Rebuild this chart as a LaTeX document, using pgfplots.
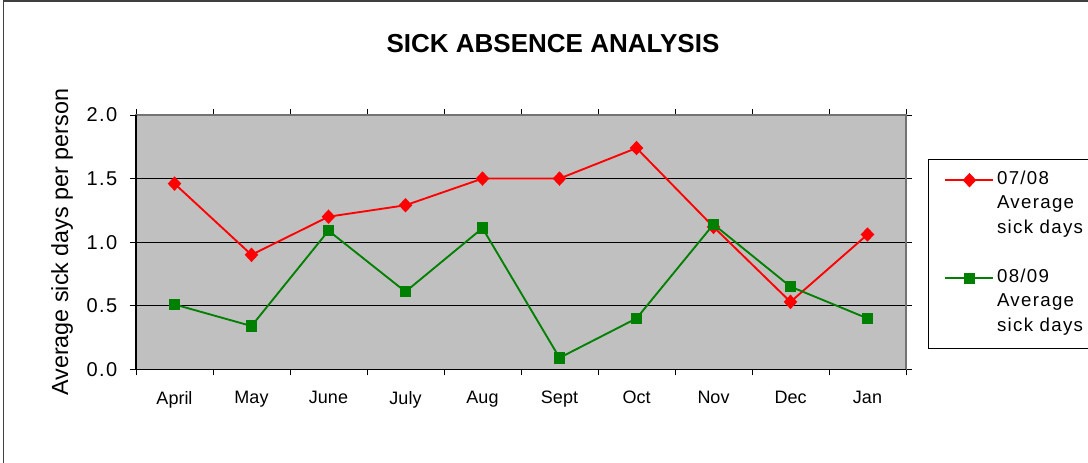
\documentclass[border=0pt]{standalone}
\usepackage{fontspec}
\setmainfont{Liberation Sans}
\newfontfamily\spaced[LetterSpace=7]{Liberation Sans}
\usepackage{pgfplots}
\pgfplotsset{compat=1.18}
\definecolor{plotbg}{RGB}{192,192,192}
\definecolor{dkgreen}{RGB}{0,128,0}
\begin{document}
\begin{tikzpicture}
\path[use as bounding box] (0,0) rectangle (816pt,347.25pt);
\clip (0,0) rectangle (816pt,347.25pt);
\draw[line width=1pt, black!75] (2.6pt,-5pt) rectangle (830pt,346.5pt);
\node[font=\bfseries\fontsize{19.5}{22}\selectfont] at (414.75pt,314.25pt) {SICK ABSENCE ANALYSIS};
\begin{axis}[
  at={(102pt,70.3pt)}, anchor=south west,
  scale only axis, width=577.5pt, height=190.7pt,
  xmin=0.5, xmax=10.5, ymin=0, ymax=2,
  axis background/.style={fill=plotbg},
  axis line style={draw=gray!90!black, line width=0.8pt},
  tick align=outside,
  major tick length=4.5pt,
  tick style={black, line width=0.6pt},
  xtick={0.5,1.5,...,10.5}, xticklabels={},
  extra x ticks={1,2,3,4,5,6,7,8,9,10},
  extra x tick labels={April,May,June,July,Aug,Sept,Oct,Nov,Dec,Jan},
  extra x tick style={major tick length=0pt, grid=none},
  ytick={0,0.5,1,1.5,2},
  yticklabels={0.0,0.5,1.0,1.5,2.0},
  ymajorgrids,
  major grid style={black, line width=0.6pt},
  yticklabel style={font=\spaced\fontsize{15}{16}\selectfont, xshift=-6pt},
  xticklabel style={font=\fontsize{13.5}{15}\selectfont, yshift=-13pt},
  ylabel={Average sick days per person},
  every axis y label/.style={at={(axis description cs:-0.0961,0.5)}, rotate=90, anchor=center, font=\fontsize{17.5}{19}\selectfont},
  legend style={at={(axis description cs:1.0286,0.827)}, anchor=north west, draw=black, fill=white, line width=0.8pt,
    font=\spaced\fontsize{14}{16}\selectfont, cells={anchor=west}, row sep=4.4pt, inner xsep=12pt, inner ysep=8.5pt,
    nodes={inner ysep=0pt, text height=10pt, text depth=4pt}},
  legend image code/.code={\draw[mark repeat=2, mark phase=2] plot coordinates {(0pt,0pt) (18pt,0pt) (36pt,0pt)};},
  after end axis/.code={\draw[black, line width=0.8pt] (rel axis cs:0,1)--(rel axis cs:0,0)--(rel axis cs:1,0);},
]
\addplot[red, line width=1.4pt, mark=diamond*, mark size=4.4pt, mark options={solid, xscale=1.25}] coordinates {
(1,1.46) (2,0.90) (3,1.20) (4,1.29) (5,1.50) (6,1.50) (7,1.74) (8,1.12) (9,0.53) (10,1.06)};
\addlegendentry{\makebox[75pt][l]{07/08}}
\addlegendimage{empty legend}\addlegendentry{Average}
\addlegendimage{empty legend}\addlegendentry{sick days}
\addlegendimage{empty legend}\addlegendentry{}
\addplot[dkgreen, line width=1.4pt, mark=square*, mark size=3.6pt, mark options={solid}] coordinates {
(1,0.51) (2,0.34) (3,1.09) (4,0.61) (5,1.11) (6,0.09) (7,0.40) (8,1.14) (9,0.65) (10,0.40)};
\addlegendentry{08/09}
\addlegendimage{empty legend}\addlegendentry{Average}
\addlegendimage{empty legend}\addlegendentry{sick days}
\end{axis}
\end{tikzpicture}
\end{document}
